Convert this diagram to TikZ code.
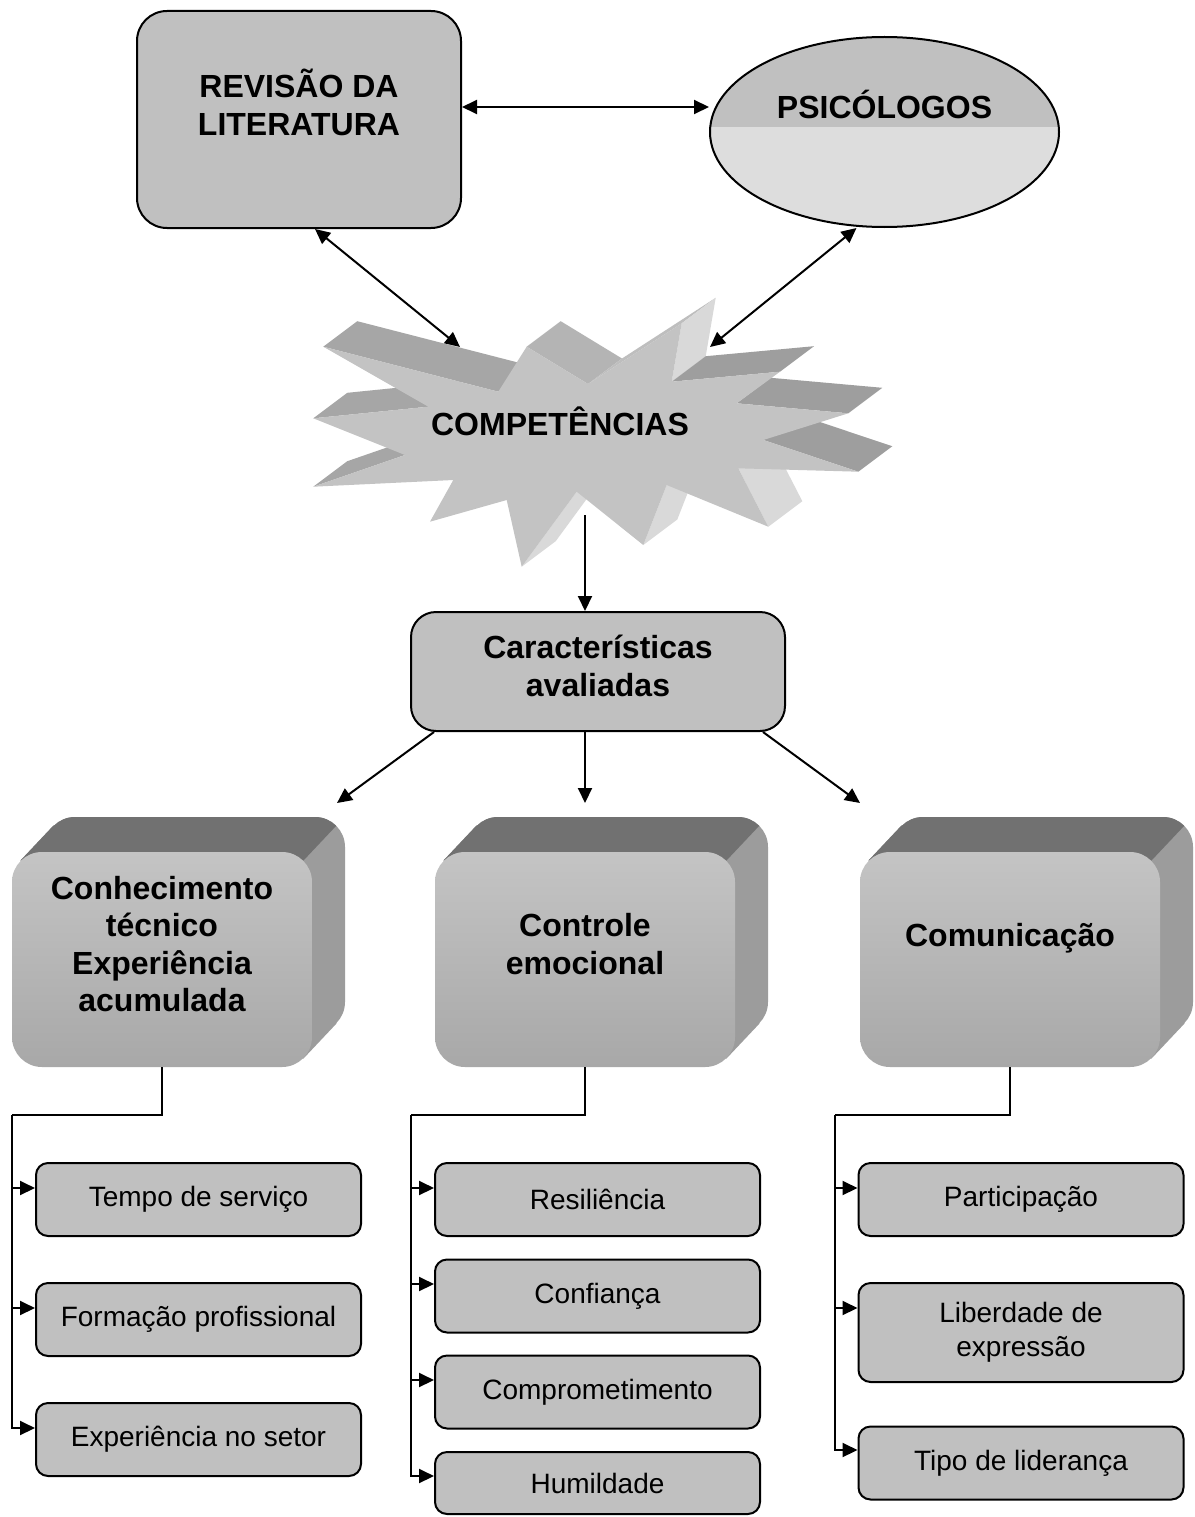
\documentclass[tikz,border=0pt]{standalone}
\usepackage{fontspec}
\setmainfont{Liberation Sans}
\usetikzlibrary{arrows.meta,shapes.geometric}

\definecolor{boxgray}{HTML}{C0C0C0}
\definecolor{ovallow}{HTML}{DDDDDD}
\definecolor{cubetopcol}{HTML}{717171}
\definecolor{cubesidecol}{HTML}{9C9C9C}
\definecolor{cubehi}{HTML}{C4C4C4}
\definecolor{cubelo}{HTML}{A8A8A8}
\definecolor{burstface}{HTML}{C3C3C3}
\definecolor{burstdark}{HTML}{9E9E9E}
\definecolor{burstmid}{HTML}{A6A6A6}
\definecolor{burstsoft}{HTML}{B4B4B4}
\definecolor{burstpale}{HTML}{BEBEBE}
\definecolor{burstlight}{HTML}{D9D9D9}

\tikzset{
  hd/.style={font=\fontsize{32}{37.5}\selectfont\bfseries, align=center, inner sep=0pt},
  rg/.style={font=\fontsize{28}{34}\selectfont, align=center},
  tipA/.tip={Triangle[length=15pt,width=14pt]},
  conn/.style={line width=2pt, -tipA},
  biconn/.style={line width=2pt, tipA-tipA},
  wire/.style={line width=2pt},
  leaf/.style={rg, draw, line width=2pt, fill=boxgray, rounded corners=12pt,
    minimum width=325pt, minimum height=73pt, inner sep=0pt},
  bigbox/.style={draw, line width=2pt, fill=boxgray, rounded corners=30pt, inner sep=0pt},
  cubefront/.style={rectangle, rounded corners=30pt, minimum width=300pt,
    minimum height=215pt, inner sep=0pt, top color=cubehi, bottom color=cubelo},
}

% A bevelled block: back slab, top face, then the shaded front face with its text.
% #1 node name, #2 left x of the front, #3 top y of the front, #4 text y, #5 text
\newcommand\cubeblock[5]{%
  \pgfmathsetmacro\cxa{#2}%
  \pgfmathsetmacro\cxb{#2+300}%
  \pgfmathsetmacro\cya{#3}%
  \pgfmathsetmacro\cyb{#3+215}%
  \fill[cubesidecol, rounded corners=30pt] (\cxa+33,\cya-35) rectangle (\cxb+33,\cyb-35);
  \fill[cubesidecol] (\cxa+8.5,\cya+8.5) -- (\cxa+41.5,\cya-26.5) -- (\cxb+24.5,\cyb-43.5) -- (\cxb-8.5,\cyb-8.5) -- cycle;
  \begin{scope}
    \clip (\cxa+8.5,\cya+8.5) -- (\cxb-8.5,\cya+8.5) -- (\cxb+90.5,\cya-96.5) -- (\cxa+107.5,\cya-96.5) -- cycle;
    \fill[cubetopcol, rounded corners=30pt] (\cxa+33,\cya-35) rectangle (\cxb+33,\cyb-35);
    \fill[cubetopcol] (\cxa+8.5,\cya+8.5) -- (\cxa+41.5,\cya-26.5) -- (\cxb+24.5,\cyb-43.5) -- (\cxb-8.5,\cyb-8.5) -- cycle;
  \end{scope}
  \node[cubefront] (#1) at ({\cxa+150},{\cya+107.5}) {};
  \node[hd] (#1t) at ({\cxa+150},#4) {#5};
}

\begin{document}
\begin{tikzpicture}[x=1pt,y=-1pt]
\useasboundingbox (0,0) rectangle (1194,1517);
\fill[white] (0,0) rectangle (1194,1517);

% ---------- top row ----------
\node[bigbox, minimum width=324pt, minimum height=217pt] (rev) at (299,119.5) {};
\node[hd] (revt) at (299,102.5) {REVISÃO DA\\LITERATURA};

\node[ellipse, draw, line width=2pt, fill=ovallow, inner sep=0pt,
      minimum width=349pt, minimum height=190pt,
      path picture={\fill[boxgray] (path picture bounding box.north west)
        rectangle ([yshift=-90pt]path picture bounding box.north east);}]
      (psi) at (884.5,132) {};
\node[hd] (psit) at (884.5,104) {PSICÓLOGOS};

% ---------- explosion ----------
% side faces (extrusion toward the upper right)
\fill[burstmid]   (313.3,486.7) -- (405,455) -- (439,429.5) -- (347.3,461.2) -- cycle;
\fill[burstmid]   (313.3,418.3) -- (428.3,406.7) -- (462.3,381.2) -- (347.3,392.8) -- cycle;
\fill[burstmid]   (323.3,346.7) -- (498.3,391.7) -- (532.3,366.2) -- (357.3,321.2) -- cycle;
\fill[burstsoft]  (526.7,346.7) -- (588,384) -- (622,358.5) -- (560.7,321.2) -- cycle;
\fill[burstpale]  (588,384) -- (681.7,323.3) -- (715.7,297.8) -- (622,358.5) -- cycle;
\fill[burstlight] (681.7,323.3) -- (671.7,381.7) -- (705.7,356.2) -- (715.7,297.8) -- cycle;
\fill[burstdark]  (671.7,381.7) -- (780,371.7) -- (814,346.2) -- (705.7,356.2) -- cycle;
\fill[burstdark]  (736.7,403.3) -- (848.3,413.3) -- (882.3,387.8) -- (770.7,377.8) -- cycle;
\fill[burstdark]  (763.3,440) -- (858.3,471.7) -- (892.3,446.2) -- (797.3,414.5) -- cycle;
\fill[burstlight] (738.3,468.3) -- (768.3,526.7) -- (802.3,501.2) -- (772.3,442.8) -- cycle;
\fill[burstlight] (666.7,485) -- (643.3,545) -- (677.3,519.5) -- (700.7,459.5) -- cycle;
\fill[burstlight] (576.7,491.7) -- (521.7,566.7) -- (555.7,541.2) -- (610.7,466.2) -- cycle;
% front face
\fill[burstface] (323.3,346.7) -- (498.3,391.7) -- (526.7,346.7) -- (588,384)
  -- (681.7,323.3) -- (671.7,381.7) -- (780,371.7) -- (736.7,403.3)
  -- (848.3,413.3) -- (763.3,440) -- (858.3,471.7) -- (738.3,468.3)
  -- (768.3,526.7) -- (666.7,485) -- (643.3,545) -- (576.7,491.7)
  -- (521.7,566.7) -- (506.7,500) -- (430,521.7) -- (453.3,480)
  -- (313.3,486.7) -- (405,455) -- (313.3,418.3) -- (428.3,406.7) -- cycle;
\node[hd] (comp) at (560,421) {COMPETÊNCIAS};
\coordinate (burstNW) at (460,347);
\coordinate (burstNE) at (710,347);
\coordinate (burstS) at (585,515);

% ---------- evaluated characteristics ----------
\node[bigbox, rounded corners=25pt, minimum width=374pt, minimum height=119pt] (car) at (598,671.5) {};
\node[hd] (cart) at (598,666) {Características\\avaliadas};

% ---------- the three bevelled blocks ----------
\cubeblock{cA}{12}{852}{944}{Conhecimento\\técnico\\Experiência\\acumulada}
\cubeblock{cB}{435}{852}{944}{Controle\\emocional}
\cubeblock{cC}{860}{852}{938}{Comunicação}

\coordinate (tipL) at (337,803);
\coordinate (tipM) at (585,803);
\coordinate (tipR) at (860,803);

% ---------- leaf boxes ----------
\node[leaf] (a1) at (198.5,1199.5) {Tempo de serviço};
\node[leaf] (a2) at (198.5,1319.5) {Formação profissional};
\node[leaf] (a3) at (198.5,1439.5) {Experiência no setor};

\node[leaf] (b1) at (597.5,1199.5) {Resiliência};
\node[leaf] (b2) at (597.5,1296) {Confiança};
\node[leaf] (b3) at (597.5,1392) {Comprometimento};
\node[leaf, minimum height=62pt] (b4) at (597.5,1483) {Humildade};

\node[leaf] (d1) at (1021,1199.5) {Participação};
\node[leaf, minimum height=99pt] (d2) at (1021,1332.5) {Liberdade de\\expressão};
\node[leaf] (d3) at (1021,1463) {Tipo de liderança};

\coordinate (busA) at (12,1115);
\coordinate (busB) at (411,1115);
\coordinate (busC) at (835,1115);

% ---------- connectors ----------
\draw[biconn] ([yshift=12.5pt]rev.east) -- ([yshift=25pt]psi.west);
\draw[biconn] ([xshift=16pt]rev.south) -- (burstNW);
\draw[biconn] ([xshift=-28pt]psi.south) -- (burstNE);
\draw[conn] (burstS) -- ([xshift=-13pt]car.north);

\draw[conn] ([xshift=24pt]car.south west) -- (tipL);
\draw[conn] ([xshift=-13pt]car.south) -- (tipM);
\draw[conn] ([xshift=-23pt]car.south east) -- (tipR);

\draw[wire] (cA.south) |- (busA);
\draw[conn] (busA) |- ([yshift=11.5pt]a1.west);
\draw[conn] (busA) |- ([yshift=11.5pt]a2.west);
\draw[conn] (busA) |- ([yshift=11.5pt]a3.west);

\draw[wire] (cB.south) |- (busB);
\draw[conn] (busB) |- ([yshift=11.5pt]b1.west);
\draw[conn] (busB) |- ([yshift=12pt]b2.west);
\draw[conn] (busB) |- ([yshift=12pt]b3.west);
\draw[conn] (busB) |- ([yshift=7pt]b4.west);

\draw[wire] (cC.south) |- (busC);
\draw[conn] (busC) |- ([yshift=11.5pt]d1.west);
\draw[conn] (busC) |- ([yshift=24.5pt]d2.west);
\draw[conn] (busC) |- ([yshift=13pt]d3.west);
\end{tikzpicture}
\end{document}
